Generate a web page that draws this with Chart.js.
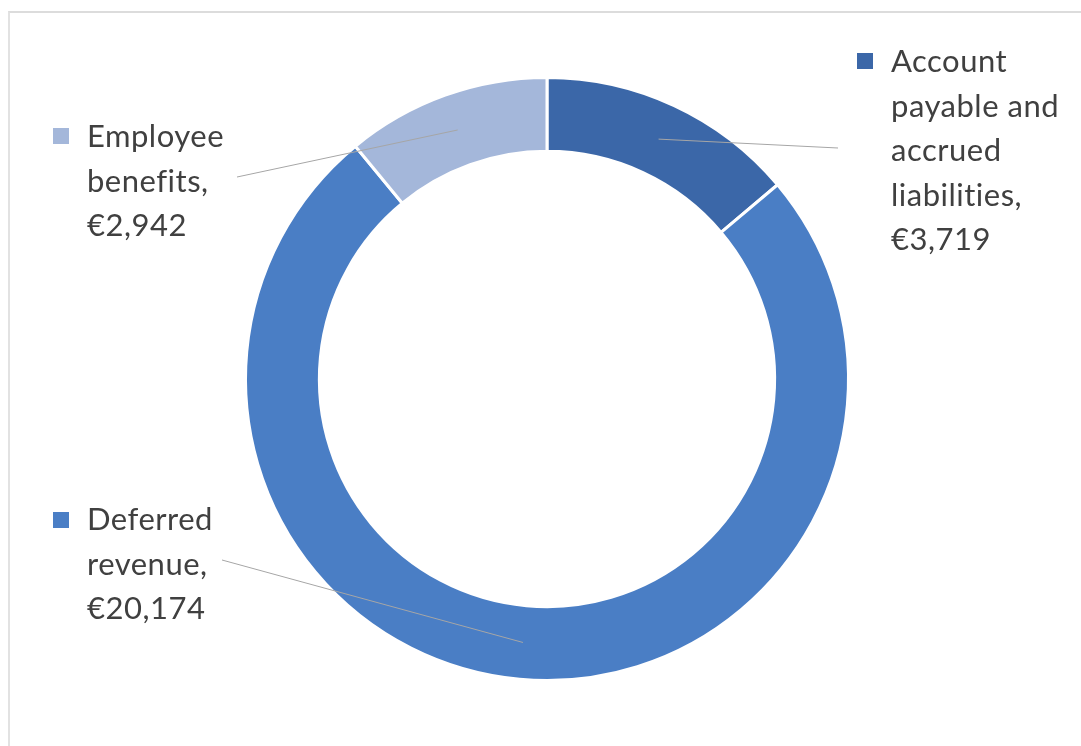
<!DOCTYPE html>
<html>
<head>
<meta charset="utf-8">
<script src="https://cdn.jsdelivr.net/npm/chart.js@4/dist/chart.umd.min.js"></script>
<style>
  html, body { margin: 0; padding: 0; background: #ffffff; }
  #wrap { position: relative; width: 1081px; height: 746px; overflow: hidden; }
  #frame {
    position: absolute; left: 8px; top: 11px; width: 1090px; height: 760px;
    border-top: 2px solid #dcdcdc; border-left: 2px solid #e2e2e2; box-sizing: border-box;
  }
  canvas { position: absolute; left: 0; top: 0; }
</style>
</head>
<body>
<div id="wrap">
  <div id="frame"></div>
  <canvas id="chart" width="1081" height="746"></canvas>
</div>
<script>
// Current liabilities breakdown (EUR)
const categories = ['Account payable and accrued liabilities', 'Deferred revenue', 'Employee benefits'];
const values = [3719, 20174, 2942];
const colors = ['#3b67a8', '#4a7ec5', '#a4b7da'];

// Where each outside label sits: legend key box, first text line, leader start
const labelLayout = [
  { key: [857, 53], textX: 891, firstLineY: 62, anchor: [838, 148] },
  { key: [53, 512], textX: 87, firstLineY: 520, anchor: [222, 560] },
  { key: [53, 128], textX: 87, firstLineY: 137, anchor: [237, 177] }
];
const LABEL_FONT = '31px Lato, "Open Sans", sans-serif';
const LINE_HEIGHT = 44.5;
const WRAP_WIDTH = 180;
const TEXT_COLOR = '#404040';
const LEADER_COLOR = '#a6a6a6';

function euro(v) { return '\u20AC' + v.toLocaleString('en-US'); }

function wrapWords(ctx, text, maxWidth) {
  const words = text.split(' ');
  const lines = [];
  let line = '';
  words.forEach(w => {
    const test = line ? line + ' ' + w : w;
    if (line && ctx.measureText(test).width > maxWidth) { lines.push(line); line = w; }
    else { line = test; }
  });
  if (line) lines.push(line);
  return lines;
}

const outsideLabels = {
  id: 'outsideLabels',
  afterDatasetsDraw(chart) {
    const ctx = chart.ctx;
    const meta = chart.getDatasetMeta(0);
    ctx.save();
    // leader lines from the label to the middle of each ring segment
    ctx.strokeStyle = LEADER_COLOR;
    ctx.lineWidth = 1;
    meta.data.forEach((arc, i) => {
      const p = arc.getProps(['x', 'y', 'startAngle', 'endAngle', 'innerRadius', 'outerRadius'], true);
      const mid = (p.startAngle + p.endAngle) / 2;
      const r = (p.innerRadius + p.outerRadius) / 2;
      const tx = p.x + Math.cos(mid) * r;
      const ty = p.y + Math.sin(mid) * r;
      const a = labelLayout[i].anchor;
      ctx.beginPath();
      ctx.moveTo(a[0], a[1]);
      ctx.lineTo(tx, ty);
      ctx.stroke();
    });
    // key boxes and wrapped text (slight tracking also keeps letters unligated)
    ctx.font = LABEL_FONT;
    if ('letterSpacing' in ctx) ctx.letterSpacing = '0.5px';
    ctx.textBaseline = 'middle';
    ctx.textAlign = 'left';
    categories.forEach((cat, i) => {
      const L = labelLayout[i];
      ctx.fillStyle = colors[i];
      ctx.fillRect(L.key[0], L.key[1], 16, 16);
      const lines = wrapWords(ctx, cat + ',', WRAP_WIDTH);
      lines.push(euro(values[i]));
      ctx.fillStyle = TEXT_COLOR;
      lines.forEach((t, k) => ctx.fillText(t, L.textX, L.firstLineY + k * LINE_HEIGHT));
    });
    ctx.restore();
  }
};

new Chart(document.getElementById('chart'), {
  type: 'doughnut',
  data: {
    labels: categories,
    datasets: [{
      data: values,
      backgroundColor: colors,
      borderColor: '#ffffff',
      borderWidth: 3,
      hoverOffset: 0
    }]
  },
  options: {
    responsive: false,
    animation: false,
    cutout: '75.5%',
    layout: { padding: { left: 13, right: 0, top: 76, bottom: 64 } },
    plugins: {
      legend: { display: false },
      tooltip: { enabled: false }
    }
  },
  plugins: [outsideLabels]
});
</script>
</body>
</html>
